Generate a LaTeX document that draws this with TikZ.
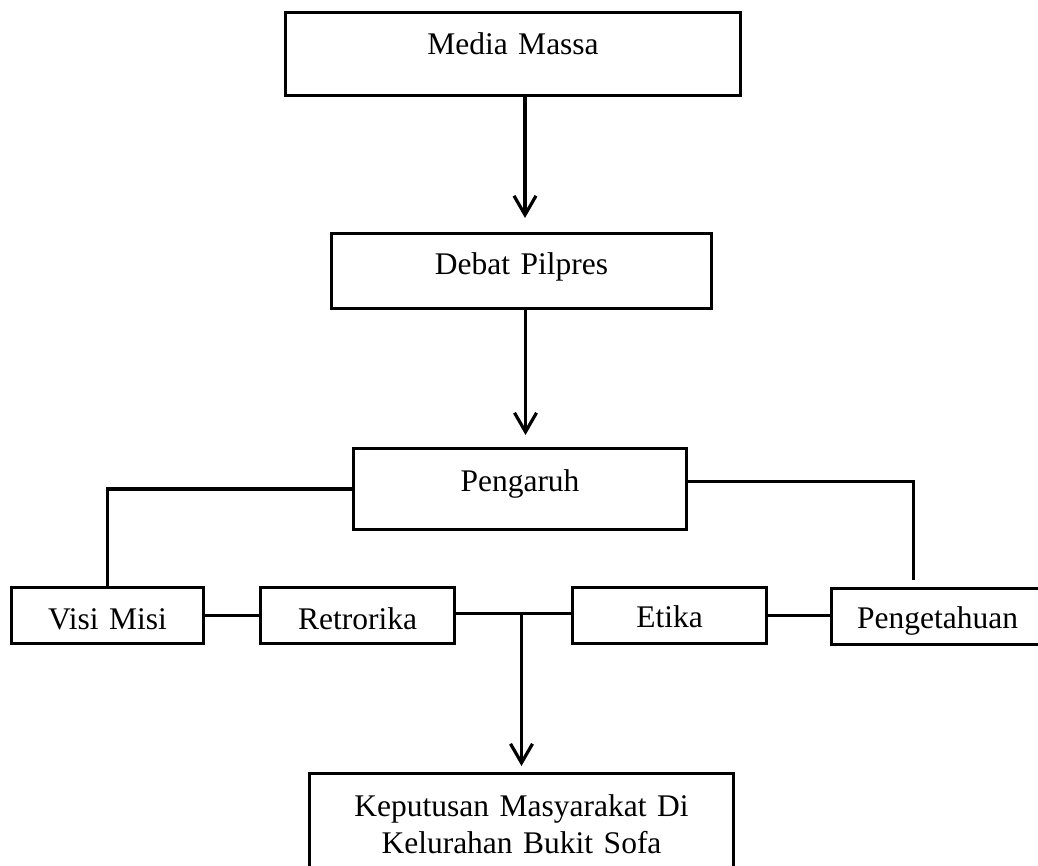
\documentclass[tikz,border=0pt]{standalone}
\usepackage{fontspec}
\setmainfont{Liberation Serif}
\usepackage{tikz}
\usetikzlibrary{arrows.meta,positioning}

\begin{document}
\begin{tikzpicture}[
    x=1pt,y=-1pt,
    box/.style={draw, line width=3pt, inner sep=0pt, align=center, anchor=north west,
                font=\fontsize{31.5}{37}\selectfont},
    link/.style={line width=3.2pt},
    arrow/.style={-{Straight Barb[length=19pt,width=22pt]}, line width=3.2pt}
]
\useasboundingbox (0,0) rectangle (1038,866);

% Main chain
\node[box, text width=455pt, text height=42pt, text depth=41pt] (media) at (284,11) {Media Massa};
\node[box, text width=380pt, text height=41pt, text depth=34pt] (debat) at (330,232) {Debat Pilpres};
\node[box, text width=333pt, text height=43pt, text depth=38pt] (pengaruh) at (352,447) {Pengaruh};

% Row of factors
\node[box, text width=192pt, text height=42pt, text depth=14pt] (visi) at (10,586) {Visi Misi};
\node[box, text width=194pt, text height=42pt, text depth=14pt] (retro) at (259,586) {Retrorika};
\node[box, text width=194pt, text height=40pt, text depth=16pt] (etika) at (571,586) {Etika};
\node[box, text width=212pt, text height=40pt, text depth=16pt] (penget) at (830,587) {Pengetahuan};

% Outcome
\node[box, text width=424pt, text height=43pt, text depth=65pt] (keputusan) at (308,772)
    {Keputusan Masyarakat Di\\Kelurahan Bukit Sofa};

% Arrows down the chain
\draw[arrow] ([xshift=12pt]media.south) -- ([xshift=3.5pt,yshift=14pt]debat.north);
\draw[arrow] ([xshift=4pt]debat.south) -- ([xshift=5.5pt,yshift=12pt]pengaruh.north);

% Branches from Pengaruh
\draw[link] (pengaruh.west) -| (visi.north);
\draw[link] ([yshift=7.5pt]pengaruh.east) -| ([xshift=-24pt,yshift=7pt]penget.north);

% Links between the factors
\draw[link] (visi.east) -- (retro.west);
\draw[link] ([yshift=2pt]retro.east) -- ([yshift=2pt]retro.east -| etika.west);
\draw[link] (etika.east) -- (etika.east -| penget.west);

% Into the decision
\draw[arrow] ([yshift=2pt]retro.east -| keputusan.north) -- ([yshift=6pt]keputusan.north);
\end{tikzpicture}
\end{document}
